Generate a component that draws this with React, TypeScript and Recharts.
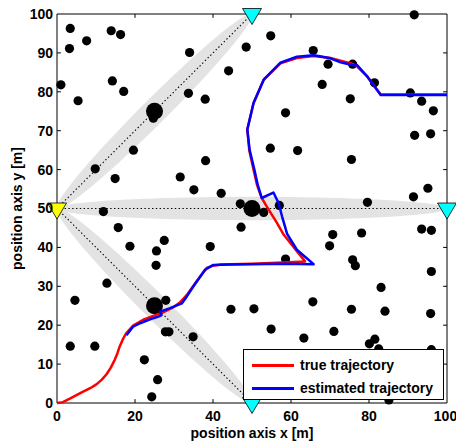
import React from 'react';
import { ScatterChart, Scatter, XAxis, YAxis, ReferenceLine } from 'recharts';

// landmarks (small black dots)
const landmarks = [
  { x: 3.4, y: 96.3 }, { x: 3.2, y: 91.1 }, { x: 7.6, y: 93.1 }, { x: 13.9, y: 95.7 }, { x: 16.3, y: 94.7 },
  { x: 1.0, y: 81.8 }, { x: 5.4, y: 77.7 }, { x: 14.2, y: 82.8 }, { x: 17.1, y: 80.1 }, { x: 34.0, y: 90.1 },
  { x: 33.7, y: 79.6 }, { x: 38.0, y: 78.1 }, { x: 44.0, y: 85.4 }, { x: 48.5, y: 91.5 }, { x: 19.6, y: 65.0 },
  { x: 9.8, y: 60.2 }, { x: 14.9, y: 57.7 }, { x: 31.6, y: 58.1 }, { x: 38.1, y: 62.3 }, { x: 35.1, y: 54.8 },
  { x: 42.1, y: 53.9 }, { x: 11.9, y: 49.2 }, { x: 47.0, y: 51.2 }, { x: 91.6, y: 99.8 }, { x: 54.8, y: 94.4 },
  { x: 65.7, y: 90.6 }, { x: 69.5, y: 87.1 }, { x: 75.8, y: 87.1 }, { x: 68.0, y: 81.9 }, { x: 81.4, y: 82.3 },
  { x: 75.2, y: 78.2 }, { x: 90.6, y: 79.7 }, { x: 93.5, y: 77.6 }, { x: 96.5, y: 75.1 }, { x: 58.6, y: 74.6 },
  { x: 91.7, y: 68.8 }, { x: 95.8, y: 69.2 }, { x: 54.7, y: 65.5 }, { x: 61.7, y: 64.9 }, { x: 75.5, y: 62.6 },
  { x: 95.1, y: 55.2 }, { x: 91.4, y: 53.0 }, { x: 79.6, y: 51.6 }, { x: 53.0, y: 49.0 }, { x: 57.0, y: 50.8 },
  { x: 15.7, y: 45.1 }, { x: 18.7, y: 40.3 }, { x: 27.5, y: 41.8 }, { x: 25.5, y: 39.1 }, { x: 25.4, y: 35.4 },
  { x: 39.3, y: 40.2 }, { x: 12.8, y: 30.8 }, { x: 4.6, y: 26.4 }, { x: 27.9, y: 26.4 }, { x: 44.6, y: 24.1 },
  { x: 3.4, y: 14.6 }, { x: 9.7, y: 14.6 }, { x: 27.8, y: 18.3 }, { x: 28.7, y: 18.3 }, { x: 34.9, y: 17.0 },
  { x: 22.4, y: 11.1 }, { x: 25.8, y: 6.0 }, { x: 24.3, y: 1.6 }, { x: 47.2, y: 45.2 }, { x: 70.7, y: 43.3 },
  { x: 69.9, y: 40.4 }, { x: 78.1, y: 43.7 }, { x: 93.5, y: 44.7 }, { x: 96.0, y: 44.4 }, { x: 58.6, y: 37.0 },
  { x: 75.8, y: 36.8 }, { x: 76.5, y: 35.3 }, { x: 96.0, y: 33.8 }, { x: 83.1, y: 29.7 }, { x: 65.6, y: 26.0 },
  { x: 50.5, y: 24.2 }, { x: 75.5, y: 24.1 }, { x: 84.1, y: 23.6 }, { x: 95.8, y: 23.0 }, { x: 54.9, y: 19.0 },
  { x: 63.3, y: 16.7 }, { x: 71.0, y: 18.4 }, { x: 81.5, y: 16.4 }, { x: 80.1, y: 15.2 }, { x: 82.5, y: 13.9 },
  { x: 96.0, y: 13.7 }, { x: 85.1, y: 0.8 }, { x: 24.7, y: 73.2 },
];

// link midpoints (large dots)
const bigDots = [{ x: 25, y: 75 }, { x: 50, y: 50 }, { x: 25, y: 25 }];

// transmitter (yellow) and receivers (cyan)
const transmitter = [{ x: 0, y: 50 }];
const receivers = [{ x: 50, y: 100 }, { x: 100, y: 50 }, { x: 50, y: 0 }];
const bandHalfWidth = [3.2, 3.0, 3.2];

const trueTrajectory = [
  { x: 0, y: 0 }, { x: 1.5, y: 0.2 }, { x: 3.3, y: 1.1 }, { x: 5.0, y: 2.0 }, { x: 6.7, y: 2.9 },
  { x: 8.5, y: 3.8 }, { x: 10.1, y: 4.8 }, { x: 11.5, y: 6.0 }, { x: 12.7, y: 7.4 }, { x: 13.8, y: 9.1 },
  { x: 14.8, y: 11.1 }, { x: 15.5, y: 12.8 }, { x: 16.1, y: 14.6 }, { x: 16.9, y: 16.4 }, { x: 17.8, y: 18.0 },
  { x: 19.5, y: 19.9 }, { x: 22.1, y: 21.4 }, { x: 24.7, y: 22.4 }, { x: 27.2, y: 23.3 }, { x: 29.8, y: 24.6 },
  { x: 31.5, y: 25.8 }, { x: 33.3, y: 27.8 }, { x: 35.8, y: 31.3 }, { x: 38.4, y: 34.7 }, { x: 40.0, y: 35.3 },
  { x: 42.0, y: 35.6 }, { x: 50.0, y: 35.8 }, { x: 58.0, y: 36.1 }, { x: 63.6, y: 36.4 }, { x: 58.1, y: 43.3 },
  { x: 56.4, y: 46.3 }, { x: 53.8, y: 50.5 }, { x: 52.5, y: 52.7 }, { x: 51.3, y: 56.0 }, { x: 50.4, y: 60.0 },
  { x: 49.3, y: 65.0 }, { x: 48.8, y: 70.3 }, { x: 50.4, y: 77.1 }, { x: 53.0, y: 83.1 }, { x: 57.3, y: 87.3 },
  { x: 61.5, y: 88.7 }, { x: 65.8, y: 89.2 }, { x: 70.1, y: 88.7 }, { x: 72.7, y: 88.0 }, { x: 75.7, y: 87.2 },
  { x: 77.0, y: 86.5 }, { x: 79.5, y: 84.0 }, { x: 83.0, y: 79.3 }, { x: 100, y: 79.3 },
];

const estTrajectory = [
  { x: 17.8, y: 17.4 }, { x: 19.5, y: 19.6 }, { x: 21.3, y: 20.5 }, { x: 24.7, y: 21.8 }, { x: 26.0, y: 22.2 },
  { x: 26.8, y: 22.6 }, { x: 26.4, y: 23.5 }, { x: 29.0, y: 24.4 }, { x: 32.0, y: 25.6 }, { x: 33.3, y: 27.4 },
  { x: 35.0, y: 30.0 }, { x: 38.0, y: 34.3 }, { x: 40.1, y: 35.5 }, { x: 44.4, y: 35.6 }, { x: 50.0, y: 35.7 },
  { x: 58.0, y: 35.8 }, { x: 65.8, y: 35.7 }, { x: 61.5, y: 39.4 }, { x: 59.0, y: 43.5 }, { x: 57.7, y: 48.0 },
  { x: 56.8, y: 51.4 }, { x: 55.5, y: 54.1 }, { x: 52.5, y: 52.7 }, { x: 51.5, y: 56.0 }, { x: 50.6, y: 60.0 },
  { x: 49.4, y: 65.0 }, { x: 48.8, y: 70.3 }, { x: 50.4, y: 77.1 }, { x: 53.0, y: 83.1 }, { x: 57.3, y: 87.5 },
  { x: 61.5, y: 89.0 }, { x: 65.8, y: 89.4 }, { x: 67.0, y: 89.2 }, { x: 70.1, y: 88.6 }, { x: 72.7, y: 87.6 },
  { x: 75.7, y: 86.9 }, { x: 77.0, y: 86.8 }, { x: 79.5, y: 84.0 }, { x: 83.0, y: 79.2 }, { x: 90.0, y: 79.2 },
  { x: 100, y: 79.2 },
];

const xTicks = [0, 20, 40, 60, 80, 100];
const yTicks = [0, 10, 20, 30, 40, 50, 60, 70, 80, 90, 100];

const FONT = '"Liberation Sans", Arial, Helvetica, sans-serif';
const tickStyle = { fontFamily: FONT, fontWeight: 700, fontSize: 14, fill: '#000' };

// ellipse outline along a link, in data units
const linkEllipse = (a: { x: number; y: number }, b: { x: number; y: number }, hw: number) => {
  const cx = (a.x + b.x) / 2;
  const cy = (a.y + b.y) / 2;
  const len = Math.hypot(b.x - a.x, b.y - a.y) / 2;
  const ang = Math.atan2(b.y - a.y, b.x - a.x);
  const pts = [];
  for (let i = 0; i < 96; i++) {
    const t = (i / 96) * Math.PI * 2;
    const u = len * Math.cos(t);
    const v = hw * Math.sin(t);
    const x = cx + u * Math.cos(ang) - v * Math.sin(ang);
    const y = cy + u * Math.sin(ang) + v * Math.cos(ang);
    pts.push({ x: Math.min(100, Math.max(0, x)), y: Math.min(100, Math.max(0, y)) });
  }
  return pts;
};

const filledOutline = (props: any) => {
  const pts = props.points || [];
  const d = pts.map((p: any, i: number) => `${i ? 'L' : 'M'}${p.x},${p.y}`).join(' ') + ' Z';
  return <path d={d} fill="#e3e3e3" stroke="none" />;
};

const noMarker = () => <g />;

const triangle = (color: string) => (p: any) => (
  <polygon
    points={`${p.cx - 9.5},${p.cy - 5.5} ${p.cx + 9.5},${p.cy - 5.5} ${p.cx},${p.cy + 10.5}`}
    fill={color}
    stroke="#000"
    strokeWidth={0.8}
  />
);

export default function App() {
  return (
    <div style={{ position: 'absolute', left: 0, top: 0, width: 456, height: 445, background: '#fff' }}>
      <ScatterChart width={456} height={445} margin={{ top: 14, right: 9, bottom: 0, left: 0 }}>
        <XAxis
          type="number"
          dataKey="x"
          domain={[0, 100]}
          ticks={xTicks}
          tickLine={false}
          axisLine={{ stroke: '#000' }}
          tick={tickStyle}
          height={42}
          label={{ value: 'position axis x [m]', position: 'center', dy: 9, style: { ...tickStyle } }}
        />
        <YAxis
          type="number"
          dataKey="y"
          domain={[0, 100]}
          ticks={yTicks}
          tickLine={false}
          tickSize={2}
          tickMargin={2}
          axisLine={{ stroke: '#000' }}
          tick={tickStyle}
          width={57}
          label={{ value: 'position axis y [m]', angle: -90, position: 'center', dx: -11, style: { ...tickStyle } }}
        />
        {receivers.map((r, i) => (
          <Scatter
            key={`band-${i}`}
            data={linkEllipse(transmitter[0], r, bandHalfWidth[i])}
            shape={noMarker}
            line={filledOutline}
            isAnimationActive={false}
          />
        ))}
        {receivers.map((r, i) => (
          <Scatter
            key={`link-${i}`}
            data={[transmitter[0], r]}
            shape={noMarker}
            line={{ stroke: '#000', strokeWidth: 1.1, strokeDasharray: '1.4 2.4' }}
            isAnimationActive={false}
          />
        ))}
        <Scatter
          data={landmarks}
          shape={(p: any) => <circle cx={p.cx} cy={p.cy} r={4.6} fill="#000" />}
          isAnimationActive={false}
        />
        <Scatter
          data={bigDots}
          shape={(p: any) => <circle cx={p.cx} cy={p.cy} r={8.5} fill="#000" />}
          isAnimationActive={false}
        />
        <Scatter
          data={trueTrajectory}
          shape={noMarker}
          line={{ stroke: '#ff0000', strokeWidth: 2.5, strokeLinejoin: 'round' }}
          isAnimationActive={false}
        />
        <Scatter
          data={estTrajectory}
          shape={noMarker}
          line={{ stroke: '#0000ff', strokeWidth: 2.5, strokeLinejoin: 'round' }}
          isAnimationActive={false}
        />
        {/* inward ticks and box */}
        {xTicks.slice(1, -1).map((t) => (
          <ReferenceLine key={`xb${t}`} segment={[{ x: t, y: 0 }, { x: t, y: 1 }]} stroke="#000" />
        ))}
        {xTicks.slice(1, -1).map((t) => (
          <ReferenceLine key={`xt${t}`} segment={[{ x: t, y: 100 }, { x: t, y: 99 }]} stroke="#000" />
        ))}
        {yTicks.slice(1, -1).map((t) => (
          <ReferenceLine key={`yl${t}`} segment={[{ x: 0, y: t }, { x: 1, y: t }]} stroke="#000" />
        ))}
        {yTicks.slice(1, -1).map((t) => (
          <ReferenceLine key={`yr${t}`} segment={[{ x: 100, y: t }, { x: 99, y: t }]} stroke="#000" />
        ))}
        <ReferenceLine x={100} stroke="#000" />
        <ReferenceLine y={100} stroke="#000" />
        <Scatter data={transmitter} shape={triangle('#ffff00')} isAnimationActive={false} />
        <Scatter data={receivers} shape={triangle('#00ffff')} isAnimationActive={false} />
      </ScatterChart>
      <div
        style={{
          position: 'absolute',
          left: 243,
          top: 349,
          width: 199,
          height: 49,
          border: '1px solid #000',
          background: '#fff',
          fontFamily: FONT,
          fontWeight: 700,
          fontSize: 14,
          color: '#000',
        }}
      >
        {[
          { name: 'true trajectory', color: '#ff0000', top: 6 },
          { name: 'estimated trajectory', color: '#0000ff', top: 29 },
        ].map((e) => (
          <div key={e.name} style={{ position: 'absolute', left: 8, top: e.top, display: 'flex', alignItems: 'center', height: 18 }}>
            <div style={{ width: 42, height: 3, background: e.color }} />
            <span style={{ marginLeft: 6, whiteSpace: 'nowrap' }}>{e.name}</span>
          </div>
        ))}
      </div>
    </div>
  );
}
